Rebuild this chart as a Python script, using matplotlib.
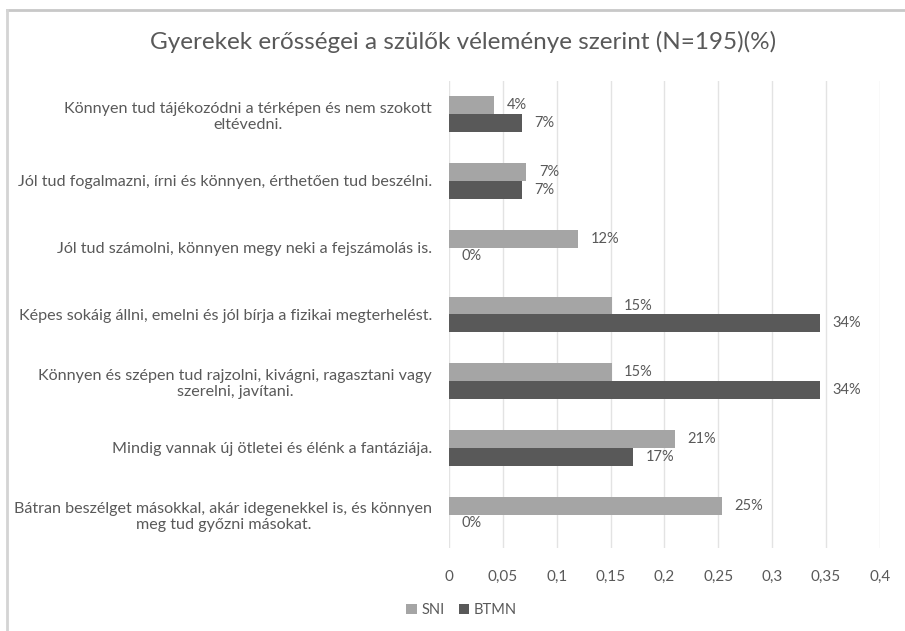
import numpy as np
import matplotlib.pyplot as plt
from matplotlib.lines import Line2D

# categories from top to bottom
categories = [
    "Könnyen tud tájékozódni a térképen és nem szokott\neltévedni.",
    "Jól tud fogalmazni, írni és könnyen, érthetően tud beszélni.",
    "Jól tud számolni, könnyen megy neki a fejszámolás is.",
    "Képes sokáig állni, emelni és jól bírja a fizikai megterhelést.",
    "Könnyen és szépen tud rajzolni, kivágni, ragasztani vagy\nszerelni, javítani.",
    "Mindig vannak új ötletei és élénk a fantáziája.",
    "Bátran beszélget másokkal, akár idegenekkel is, és könnyen\nmeg tud győzni másokat.",
]
sni = [0.042, 0.072, 0.12, 0.151, 0.151, 0.21, 0.253]
btmn = [0.068, 0.068, 0.0, 0.344, 0.344, 0.171, 0.0]
xticks = [0, 0.05, 0.1, 0.15, 0.2, 0.25, 0.3, 0.35, 0.4]

txt = "#595959"
plt.rcParams['font.family'] = ['Lato', 'DejaVu Sans']

fig = plt.figure(figsize=(9.05, 6.31), dpi=100)
ax = fig.add_axes([0.496, 0.1315, 0.4763, 0.7405])

y = np.arange(len(categories))
h = 0.265
b1 = ax.barh(y - h / 2, sni, height=h, color="#a5a5a5", label="SNI")
b2 = ax.barh(y + h / 2, btmn, height=h, color="#595959", label="BTMN")

for bars, vals in ((b1, sni), (b2, btmn)):
    for bar, v in zip(bars, vals):
        ax.annotate("%d%%" % round(v * 100),
                    (v, bar.get_y() + bar.get_height() / 2),
                    xytext=(9, 0), textcoords="offset points",
                    va="center", ha="left", fontsize=10.5, color=txt)

ax.set_ylim(len(categories) - 0.5, -0.5)
ax.set_xlim(0, 0.4)
ax.set_xticks(xticks)
ax.set_xticklabels([("%g" % t).replace(".", ",") for t in xticks])
ax.set_yticks(y)
ax.set_yticklabels(categories, multialignment="center", fontsize=11.6)
ax.tick_params(axis="both", length=0, colors=txt)
ax.tick_params(axis="x", pad=16, labelsize=11)
ax.tick_params(axis="y", pad=12)
for s in ax.spines.values():
    s.set_visible(False)
ax.grid(axis="x", color="#e3e3e3", linewidth=1)
ax.set_axisbelow(True)

fig.text(0.512, 0.933, "Gyerekek erősségei a szülők véleménye szerint (N=195)(%)",
         ha="center", va="center", fontsize=17.5, color=txt)

fig.legend(loc="center", bbox_to_anchor=(0.51, 0.033), ncol=2, frameon=False,
           fontsize=10.5, labelcolor=txt, handlelength=0.7, handleheight=0.7,
           handletextpad=0.3, columnspacing=1.0)

# chart frame: only top and left edges are visible in the crop
fig.lines.append(Line2D([0.008, 1.0], [0.984, 0.984], transform=fig.transFigure,
                        color="#c8c8c8", linewidth=2))
fig.lines.append(Line2D([0.008, 0.008], [0.0, 0.984], transform=fig.transFigure,
                        color="#d4d4d4", linewidth=2))

fig.savefig("out.png", dpi=100)
